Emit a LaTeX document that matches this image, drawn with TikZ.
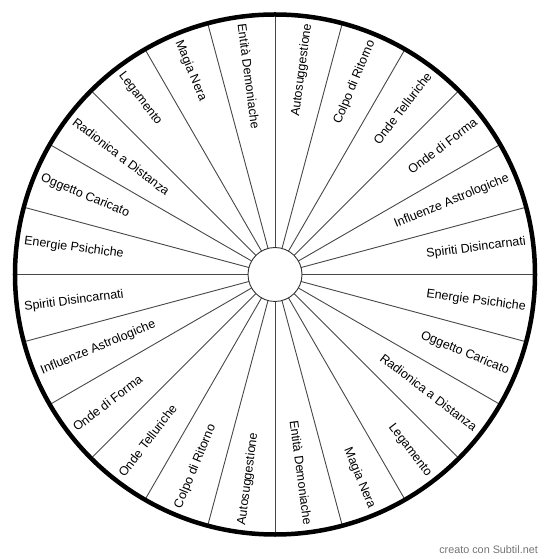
\documentclass[tikz,border=0pt]{standalone}
\usepackage{fontspec}
\setmainfont{Liberation Sans}
\usetikzlibrary{positioning, backgrounds}

\begin{document}
\begin{tikzpicture}[
  x=1pt, y=1pt,
  every node/.style={font=\fontsize{12.5}{14}\selectfont},
  rim/.style={circle, draw=black, line width=4.5pt, minimum size=520pt, inner sep=0pt, outer sep=0pt},
  hub/.style={circle, draw=black!80, line width=0.9pt, fill=white, minimum size=54pt, inner sep=0pt, outer sep=0pt},
  spoke/.style={draw=black!72, line width=0.9pt},
  sector/.style={inner sep=0pt, text=black},
  credit/.style={inner sep=0pt, text=black!55, font=\fontsize{10.8}{12}\selectfont},
]
\useasboundingbox (-275,-284.5) rectangle (275,274.5);

% Wheel
\node[rim] (rim) at (0,0) {};
\node[hub] (hub) at (0,0) {};

% Spokes
\begin{scope}[on background layer]
  \foreach \a in {0,15,...,345}
    \draw[spoke] (hub.\a) -- (rim.\a);
\end{scope}

% Sector labels (each name appears twice, opposite halves)
\foreach \txt [count=\i] in {Autosuggestione, Colpo di Ritorno, Onde Telluriche,
    Onde di Forma, Influenze Astrologiche, Spiriti Disincarnati, Energie Psichiche,
    Oggetto Caricato, Radionica a Distanza, Legamento, Magia Nera, Entità Demoniache} {
  \pgfmathsetmacro\ang{97.5-15*\i}
  \node[sector, rotate=\ang, anchor=east] (r\i) at (\ang:253) {\txt};
  \node[sector, rotate=\ang, anchor=west] (l\i) at (\ang+180:253) {\txt};
}

% Credit
\node[credit, anchor=east] (credit) at (263,-275.5) {creato con Subtil.net};

\end{tikzpicture}
\end{document}
